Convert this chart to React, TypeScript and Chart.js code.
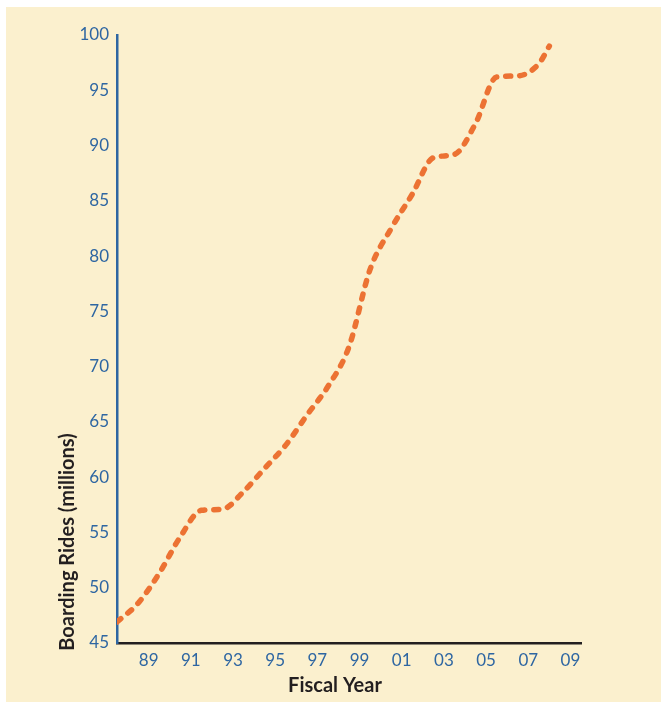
import React, { useEffect, useRef } from "react";
import { Chart, registerables } from "chart.js";

Chart.register(...registerables);

const fiscalYears: number[] = [
  1987.5, 1988.5, 1989.5, 1990.5, 1991.5, 1992.5, 1993.5, 1994.5, 1995.5, 1996.5, 1997.5,
  1998.5, 1999.5, 2000.5, 2001.5, 2002.5, 2003.5, 2004.5, 2005.5, 2006.5, 2007.5, 2008.0,
];
const boardingRides: number[] = [
  46.9, 48.6, 51.3, 54.6, 57.0, 57.1, 58.7, 60.8, 62.9, 65.6, 68.2,
  71.8, 78.8, 82.5, 85.6, 88.9, 89.2, 92.0, 96.2, 96.3, 97.4, 99.0,
];
const xTickYears: number[] = [1989, 1991, 1993, 1995, 1997, 1999, 2001, 2003, 2005, 2007, 2009];
const yTicks: number[] = [45, 50, 55, 60, 65, 70, 75, 80, 85, 90, 95, 100];
const xTitle = "Fiscal Year";
const yTitle = "Boarding Rides (millions)";

const BG = "#FBF0CE";
const BLUE = "#2E66A2";
const ORANGE = "#EC7233";
const FONT = "Lato, 'Open Sans', sans-serif";

export default function App() {
  const ref = useRef<HTMLCanvasElement | null>(null);

  useEffect(() => {
    if (!ref.current) return;
    const titlesPlugin = {
      id: "titles",
      afterDraw(chart: any) {
        const ctx = chart.ctx;
        ctx.save();
        ctx.fillStyle = "#231F20";
        ctx.font = `bold 20px ${FONT}`;
        ctx.textAlign = "center";
        ctx.textBaseline = "middle";
        ctx.fillText(xTitle, 329, 679);
        ctx.translate(62, 535);
        ctx.rotate(-Math.PI / 2);
        ctx.font = `bold 20px ${FONT}`;
        ctx.fillText(yTitle, 0, 0);
        ctx.restore();
      },
    };
    const chart = new Chart(ref.current, {
      type: "line",
      data: {
        datasets: [
          {
            data: fiscalYears.map((x, i) => ({ x, y: boardingRides[i] })),
            borderColor: ORANGE,
            borderWidth: 5.5,
            borderDash: [5, 9],
            borderCapStyle: "round",
            borderJoinStyle: "round",
            pointRadius: 0,
            fill: false,
            cubicInterpolationMode: "monotone",
          },
        ],
      },
      options: {
        animation: false,
        responsive: false,
        maintainAspectRatio: false,
        layout: { padding: { left: 0, top: 28, right: 80, bottom: 0 } },
        plugins: { legend: { display: false }, tooltip: { enabled: false } },
        scales: {
          x: {
            type: "linear",
            min: 1987.5,
            max: 2009.5,
            afterBuildTicks: (scale: any) => {
              scale.ticks = xTickYears.map((v) => ({ value: v }));
            },
            afterFit: (scale: any) => {
              scale.height = 59;
            },
            grid: { display: false, drawTicks: false },
            border: { display: true, color: "#231F20", width: 2.5 },
            ticks: {
              color: BLUE,
              font: { family: FONT, size: 17 },
              padding: 7,
              maxRotation: 0,
              autoSkip: false,
              callback: (v: any) => String(Number(v) % 100).padStart(2, "0"),
            },
          },
          y: {
            min: 45,
            max: 100,
            afterBuildTicks: (scale: any) => {
              scale.ticks = yTicks.map((v) => ({ value: v }));
            },
            afterFit: (scale: any) => {
              scale.width = 111;
            },
            grid: { display: false, drawTicks: false },
            border: { display: true, color: BLUE, width: 2.5 },
            ticks: {
              color: BLUE,
              font: { family: FONT, size: 17 },
              padding: 8,
              autoSkip: false,
            },
          },
        },
      },
      plugins: [titlesPlugin],
    } as any);
    return () => chart.destroy();
  }, []);

  return (
    <div
      style={{
        position: "absolute",
        left: 6,
        top: 7,
        width: 655,
        height: 695,
        background: BG,
      }}
    >
      <canvas ref={ref} width={655} height={695} style={{ display: "block", width: 655, height: 695 }} />
    </div>
  );
}
